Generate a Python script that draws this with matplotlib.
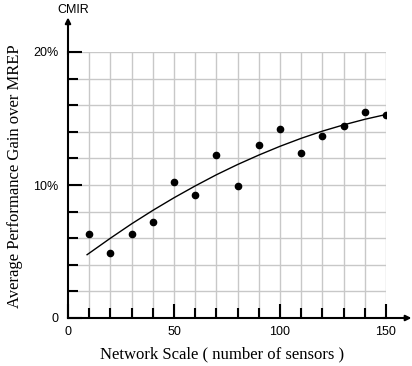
import matplotlib
matplotlib.use("Agg")
import matplotlib.pyplot as plt
import numpy as np

# Data
sensors = [10, 20, 30, 40, 50, 60, 70, 80, 90, 100, 110, 120, 130, 140, 150]
gain = [6.3, 4.9, 6.3, 7.25, 10.2, 9.25, 12.25, 9.9, 13.0, 14.2, 12.4, 13.7, 14.45, 15.5, 15.25]
trend_x = [9, 20, 30, 40, 50, 60, 70, 80, 90, 100, 110, 120, 130, 140, 150]
trend_y = [4.76, 6.0, 7.08, 8.09, 9.04, 9.93, 10.77, 11.54, 12.25, 12.91, 13.51, 14.05, 14.52, 14.94, 15.3]
xtick_vals = [0, 50, 100, 150]
xtick_labels = ["0", "50", "100", "150"]
ytick_vals = [0, 10, 20]
ytick_labels = ["0", "10%", "20%"]

W, H = 412, 366
fig = plt.figure(figsize=(W / 100, H / 100), dpi=100)
left, right, bottom, top = 68, 386, 318, 52
ax = fig.add_axes([left / W, 1 - bottom / H, (right - left) / W, (bottom - top) / H])

ax.set_xlim(0, 150)
ax.set_ylim(0, 20)

# grid
for xv in range(10, 151, 10):
    ax.axvline(xv, color="#c8c8c8", lw=1.0, zorder=0)
for yv in range(2, 21, 2):
    ax.axhline(yv, color="#c8c8c8", lw=1.0, zorder=0)

ax.plot(trend_x, trend_y, color="black", lw=1.0, zorder=3)
ax.plot(sensors, gain, "o", color="black", ms=4.5, zorder=4)

for s in ["top", "right"]:
    ax.spines[s].set_visible(False)
for s in ["left", "bottom"]:
    ax.spines[s].set_linewidth(1.5)

ax.set_xticks(xtick_vals)
ax.set_xticklabels(xtick_labels, fontfamily="Liberation Sans", fontsize=9)
ax.set_xticks(list(range(10, 150, 10)), minor=True)
ax.set_yticks(ytick_vals)
ax.set_yticklabels(ytick_labels, fontfamily="Liberation Sans", fontsize=9)
ax.set_yticks(list(range(2, 20, 2)), minor=True)
ax.set_yticks([v for v in range(2, 20, 2) if v != 10], minor=True)
ax.tick_params(which="major", direction="in", length=10, width=1.5, pad=6)
ax.tick_params(which="minor", direction="in", length=7, width=1.5)
ax.tick_params(axis="y", which="major", pad=7)

# axis arrows
ax.annotate("", xy=(0, 1.13), xytext=(0, 0.99), xycoords="axes fraction",
            arrowprops=dict(arrowstyle="-|>", lw=1.5, color="black", mutation_scale=8,
                            shrinkA=0, shrinkB=0), annotation_clip=False)
ax.annotate("", xy=(1.08, 0), xytext=(0.99, 0), xycoords="axes fraction",
            arrowprops=dict(arrowstyle="-|>", lw=1.5, color="black", mutation_scale=8,
                            shrinkA=0, shrinkB=0), annotation_clip=False)

fig.text(73 / W, 1 - 10 / H, "CMIR", fontfamily="Liberation Sans", fontsize=9,
         ha="center", va="center")
fig.text(222 / W, 1 - 354 / H, "Network Scale ( number of sensors )",
         fontfamily="Liberation Serif", fontsize=12, ha="center", va="center")
fig.text(15 / W, 1 - 176 / H, "Average Performance Gain over MREP",
         fontfamily="Liberation Serif", fontsize=12, ha="center", va="center",
         rotation=90)

fig.savefig("out.png", dpi=100)
